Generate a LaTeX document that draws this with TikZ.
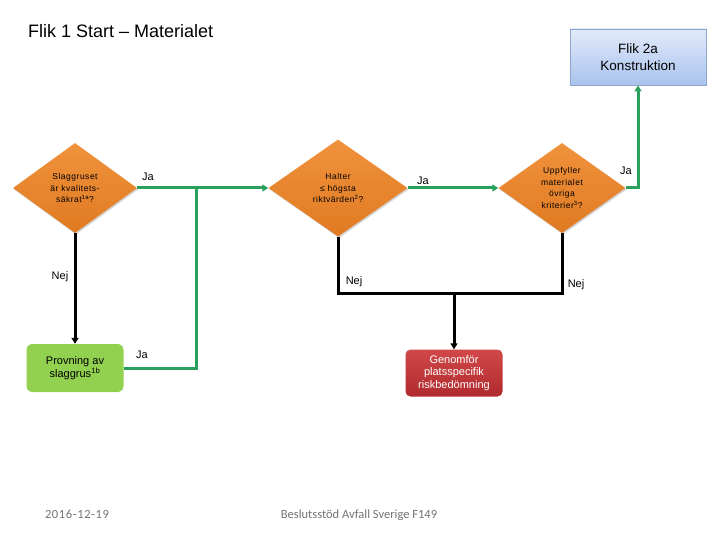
\documentclass[tikz,border=0pt]{standalone}
\usepackage{fontspec}
\setmainfont{Liberation Sans}
\newfontfamily\footfont{Carlito}
\usetikzlibrary{shapes.geometric,arrows.meta,shadows}
\definecolor{orng}{HTML}{F0923C}
\definecolor{orngdk}{HTML}{E07A22}
\definecolor{grnline}{HTML}{2AA05E}
\definecolor{grnbox}{HTML}{92D050}
\definecolor{redtop}{HTML}{D04848}
\definecolor{redbot}{HTML}{B02A2E}
\definecolor{bluetop}{HTML}{E2EAFA}
\definecolor{bluebot}{HTML}{A9C3EE}
\definecolor{blueedge}{HTML}{8CA6CC}
\tikzset{
  decision/.style={diamond, aspect=1.4, inner sep=0pt, top color=orng, bottom color=orngdk, draw=none,
    drop shadow={shadow xshift=1pt, shadow yshift=-1.5pt, opacity=0.35},
    font=\fontsize{8.5}{11.5}\selectfont\addfontfeatures{LetterSpace=6}, align=center},
  greenbox/.style={rounded corners=6pt, fill=grnbox, minimum width=97pt, minimum height=48pt,
    font=\fontsize{11}{13}\selectfont, align=center},
  redbox/.style={rounded corners=5pt, top color=redtop, bottom color=redbot, minimum width=97pt, minimum height=47pt,
    font=\fontsize{11}{12.5}\selectfont, align=center, text=white},
  bluebox/.style={top color=bluetop, bottom color=bluebot, draw=blueedge, line width=0.8pt,
    minimum width=136pt, minimum height=56pt, font=\fontsize{13.5}{17}\selectfont, align=center},
  yesline/.style={draw=grnline, line width=3pt},
  noline/.style={draw=black, line width=3pt},
  tip/.style={-{Triangle[length=6pt,width=7pt]}},
  lbl/.style={font=\fontsize{11}{13}\selectfont, inner sep=0pt},
  foot/.style={font=\footfont\fontsize{12.5}{14}\selectfont, text=black!55, inner sep=0pt, anchor=base}
}
\begin{document}
\begin{tikzpicture}[x=1pt,y=-1pt]
\useasboundingbox (0,0) rectangle (720,540);
\node[anchor=west, font=\fontsize{18}{21}\selectfont, inner sep=0pt] (title) at (28,31) {Flik 1 Start -- Materialet};

\node[decision, minimum width=124pt, minimum height=90pt] (d1) at (75,188)
  {Slaggruset\\är kvalitets-\\säkrat\textsuperscript{1a}?};
\node[decision, minimum width=139pt, minimum height=97pt] (d2) at (338,188)
  {Halter\\≤ högsta\\riktvärden\textsuperscript{2}?};
\node[decision, minimum width=127pt, minimum height=90pt] (d3) at (562,188)
  {Uppfyller\\materialet\\övriga\\kriterier\textsuperscript{3}?};

\node[bluebox] (flik) at (638,57) {Flik 2a\\Konstruktion};
\node[greenbox] (prov) at (75,368) {Provning av\\slaggrus\textsuperscript{1b}};
\node[redbox] (gen) at (454,373) {Genomför\\platsspecifik\\riskbedömning};

\coordinate (j1) at (196,188);
\coordinate (j2) at (454,293);

% yes connectors
\draw[yesline] (d1.east) -- (j1);
\draw[yesline, tip] (j1) -- (d2.west);
\draw[yesline] (prov.east) -| (j1);
\draw[yesline, tip] (d2.east) -- (d3.west);
\draw[yesline, tip] (d3.east) -| (flik.south);

% no connectors
\draw[noline, tip] (d1.south) -- (prov.north);
\draw[noline] (d2.south) |- (j2);
\draw[noline] (d3.south) |- (j2);
\draw[noline, tip] (j2) -- (gen.north);

% labels
\node[lbl] (ja1) at (148,177) {Ja};
\node[lbl] (ja2) at (423,181) {Ja};
\node[lbl] (ja3) at (626,171) {Ja};
\node[lbl] (ja4) at (142,355) {Ja};
\node[lbl] (nej1) at (60,277) {Nej};
\node[lbl] (nej2) at (354,282) {Nej};
\node[lbl] (nej3) at (576,285) {Nej};

\node[foot] (date) at (77,518) {\addfontfeatures{LetterSpace=5}2016-12-19};
\node[foot] (src) at (359,518) {Beslutsstöd Avfall Sverige F149};
\end{tikzpicture}
\end{document}
